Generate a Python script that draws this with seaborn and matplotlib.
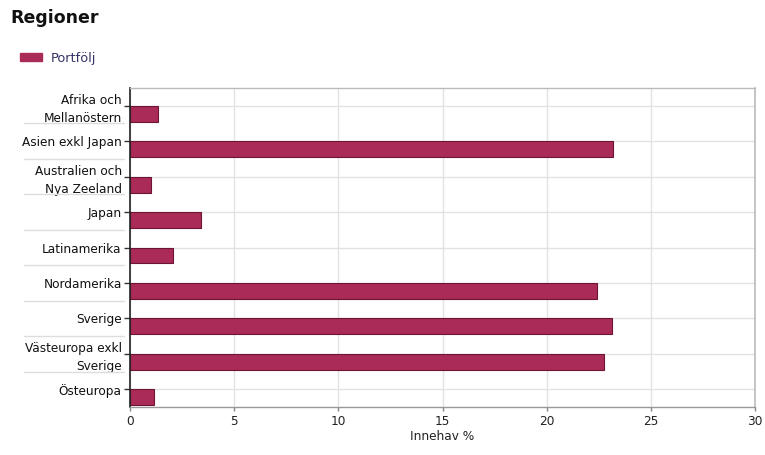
import matplotlib
matplotlib.use("Agg")
import matplotlib.pyplot as plt
import matplotlib.transforms as mtransforms
from matplotlib.patches import Patch
import seaborn as sns
import pandas as pd
import numpy as np

categories = ["Afrika och\nMellanöstern", "Asien exkl Japan", "Australien och\nNya Zeeland",
              "Japan", "Latinamerika", "Nordamerika", "Sverige",
              "Västeuropa exkl\nSverige", "Östeuropa"]
portfolio = [1.35, 23.2, 1.0, 3.4, 2.05, 22.4, 23.15, 22.75, 1.15]
series_name = "Portfölj"
x_ticks = [0, 5, 10, 15, 20, 25, 30]

bar_color = "#AA2B57"
edge_color = "#6E1535"

sns.set_theme(style="white")
plt.rcParams['font.family'] = ['DejaVu Sans']

df = pd.DataFrame({
    "Region": categories * 2,
    "Innehav": [np.nan] * len(categories) + portfolio,
    "Serie": ["_tom"] * len(categories) + [series_name] * len(categories),
})

fig = plt.figure(figsize=(7.65, 4.55), dpi=100)
ax = fig.add_axes([0.170, 0.1055, 0.817, 0.701])

sns.barplot(data=df, x="Innehav", y="Region", hue="Serie", hue_order=["_tom", series_name],
            order=categories, orient="h", width=0.9, dodge=True,
            palette={"_tom": bar_color, series_name: bar_color},
            edgecolor=edge_color, linewidth=0.8, errorbar=None, ax=ax, legend=False, saturation=1)

ax.set_xlim(0, 30)
ax.set_ylim(len(categories) - 0.5, -0.5)
ax.set_xticks(x_ticks)
ax.set_xticklabels([str(t) for t in x_ticks], fontsize=8.7, color="#222222")
ax.set_yticks(range(len(categories)))
ax.set_yticklabels(categories, fontsize=8.7, color="#111111", linespacing=1.5)
ax.set_ylabel("")
ax.set_xlabel("Innehav %", fontsize=8.7, color="#222222", labelpad=1)
ax.grid(True, color="#E2E2E2", linewidth=1.0)
ax.set_axisbelow(True)
ax.tick_params(axis="y", length=4, width=1, color="#333333", pad=2, left=True)
ax.tick_params(axis="x", length=3, width=1, color="#888888", pad=3, bottom=True)

for side, col in [("left", "#222222"), ("bottom", "#999999"), ("top", "#BBBBBB"), ("right", "#BBBBBB")]:
    ax.spines[side].set_color(col)
    ax.spines[side].set_linewidth(1.2 if side in ("left", "right") else 1.0)

# faint separators between labels in the label area
trans = mtransforms.blended_transform_factory(ax.transAxes, ax.transData)
for i in range(len(categories) - 1):
    ax.plot([-0.17, -0.01], [i + 0.5, i + 0.5], transform=trans, color="#DDDDDD",
            linewidth=1.0, clip_on=False)

fig.text(0.013, 0.960, "Regioner", fontsize=12.5, fontweight="bold", color="#111111",
         ha="left", va="center")

handle = Patch(facecolor=bar_color, edgecolor=bar_color)
fig.legend([handle], [series_name], loc="center left", bbox_to_anchor=(0.019, 0.872),
           frameon=False, fontsize=9.3, handlelength=1.7, handleheight=0.55,
           labelcolor="#333366", borderaxespad=0, handletextpad=0.7)

fig.savefig("out.png", dpi=100)
